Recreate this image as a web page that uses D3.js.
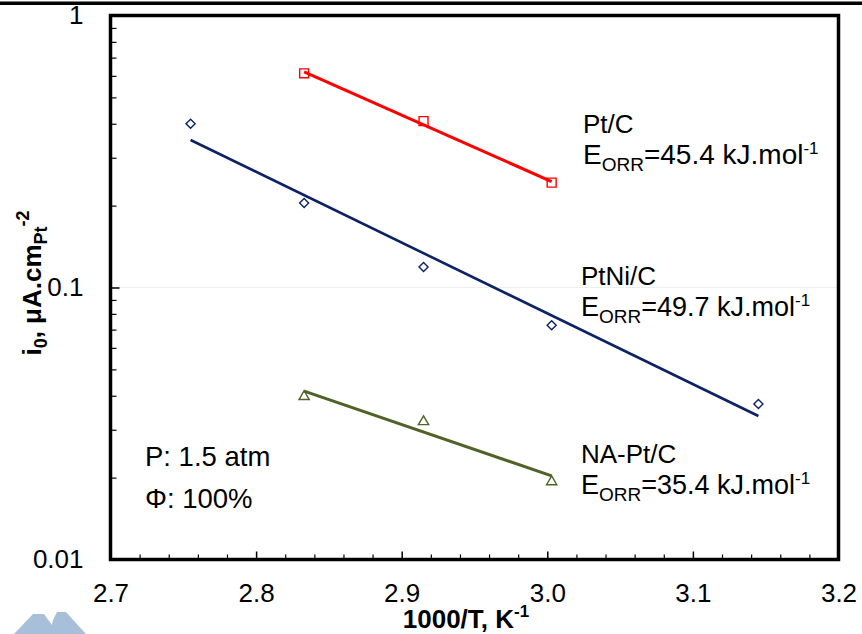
<!DOCTYPE html>
<html><head><meta charset="utf-8">
<script src="https://cdn.jsdelivr.net/npm/d3@7"></script>
<style>
html,body{margin:0;padding:0;background:#fff;}
svg{display:block;}
text{font-family:Arial,"Liberation Sans",sans-serif;}
</style></head>
<body>
<svg id="c" width="862" height="634"></svg>
<script>
// ---- data ----
const xTickValues = [2.7, 2.8, 2.9, 3.0, 3.1, 3.2];
const xTickLabels = ["2.7", "2.8", "2.9", "3.0", "3.1", "3.2"];
const yTickValues = [0.01, 0.1, 1];
const yTickLabels = ["0.01", "0.1", "1"];

const ptcX = [2.833, 2.915, 3.003];
const ptcY = [0.613, 0.409, 0.243];
const ptcFitX = [2.833, 3.003];
const ptcFitY = [0.621, 0.245];

const ptniX = [2.755, 2.833, 2.915, 3.003, 3.145];
const ptniY = [0.400, 0.2045, 0.119, 0.0726, 0.0373];
const ptniFitX = [2.755, 3.145];
const ptniFitY = [0.3486, 0.0337];

const napX = [2.833, 2.915, 3.003];
const napY = [0.0397, 0.0321, 0.0193];
const napFitX = [2.833, 3.003];
const napFitY = [0.0416, 0.0203];

// ---- layout ----
const svg = d3.select("#c");
const L = 110.5, R = 838.5, T = 15.5, B = 559.5;
const x = d3.scaleLinear().domain([2.7, 3.2]).range([L, R]);
const y = d3.scaleLog().domain([0.01, 1]).range([B, T]);

// stray top border line
svg.append("line").attr("x1", 0).attr("x2", 862).attr("y1", 3.3).attr("y2", 3.3)
  .attr("stroke", "#000").attr("stroke-width", 3.4);

// gridline at 0.1
svg.append("line").attr("x1", L).attr("x2", R).attr("y1", y(0.1)).attr("y2", y(0.1))
  .attr("stroke", "#eeeeee").attr("stroke-width", 1);

// minor ticks
const xMinor = d3.range(2.72, 3.2, 0.02).filter(v => Math.abs(v * 10 - Math.round(v * 10)) > 1e-6);
const yMinor = [];
[0.01, 0.1].forEach(d => { for (let k = 2; k <= 9; k++) yMinor.push(d * k); });

const xAxis = d3.axisBottom(x).tickValues(xTickValues).tickSize(-8).tickFormat((d, i) => xTickLabels[i]).tickPadding(20);
const gx = svg.append("g").attr("transform", `translate(0,${B})`).call(xAxis);
gx.select(".domain").remove();
gx.selectAll(".tick line").attr("stroke", "#000").attr("stroke-width", 1.5);
gx.selectAll(".tick text").attr("font-size", 26).attr("fill", "#000").attr("dy", "0.71em").attr("y", 24);
const gxm = svg.append("g").attr("transform", `translate(0,${B})`)
  .call(d3.axisBottom(x).tickValues(xMinor).tickSize(-5).tickFormat(""));
gxm.select(".domain").remove();
gxm.selectAll(".tick line").attr("stroke", "#000").attr("stroke-width", 1.2);

const yAxis = d3.axisLeft(y).tickValues(yTickValues).tickSize(-9).tickFormat((d, i) => yTickLabels[i]).tickPadding(28);
const gy = svg.append("g").attr("transform", `translate(${L},0)`).call(yAxis);
gy.select(".domain").remove();
gy.selectAll(".tick line").attr("stroke", "#000").attr("stroke-width", 1.5);
gy.selectAll(".tick text").attr("font-size", 26).attr("fill", "#000").attr("x", -27);
const gym = svg.append("g").attr("transform", `translate(${L},0)`)
  .call(d3.axisLeft(y).tickValues(yMinor).tickSize(-6).tickFormat(""));
gym.select(".domain").remove();
gym.selectAll(".tick line").attr("stroke", "#000").attr("stroke-width", 1.2);

// frame
svg.append("rect").attr("x", L).attr("y", T).attr("width", R - L).attr("height", B - T)
  .attr("fill", "none").attr("stroke", "#000").attr("stroke-width", 3.5);

// series
const line = d3.line().x(d => x(d[0])).y(d => y(d[1]));
function drawSeries(xs, ys, fx, fy, color, lw, sym, size) {
  svg.append("path").datum(d3.zip(fx, fy)).attr("d", line)
    .attr("fill", "none").attr("stroke", color).attr("stroke-width", lw);
  svg.append("g").selectAll("path").data(d3.zip(xs, ys)).join("path")
    .attr("d", d3.symbol().type(sym).size(size))
    .attr("transform", d => `translate(${x(d[0])},${y(d[1])})`)
    .attr("fill", "none").attr("stroke", color).attr("stroke-width", 1.4);
}
const diamond = { draw(ctx, size) { const r = Math.sqrt(size) / 2 * 1.1; ctx.moveTo(0, -r); ctx.lineTo(r, 0); ctx.lineTo(0, r); ctx.lineTo(-r, 0); ctx.closePath(); } };
drawSeries(ptcX, ptcY, ptcFitX, ptcFitY, "#ff0000", 3, d3.symbolSquare, 80);
drawSeries(ptniX, ptniY, ptniFitX, ptniFitY, "#0b2264", 2.6, diamond, 68);
drawSeries(napX, napY, napFitX, napFitY, "#4f6228", 3, d3.symbolTriangle, 45);

// annotations
function label(xp, yp, name, eText, fs) {
  svg.append("text").attr("x", xp).attr("y", yp).attr("font-size", 26).attr("fill", "#000").text(name);
  const t = svg.append("text").attr("x", xp).attr("y", yp + 31).attr("font-size", fs).attr("fill", "#000");
  t.append("tspan").text("E");
  t.append("tspan").attr("font-size", 19).attr("dy", 7).text("ORR");
  t.append("tspan").attr("dy", -7).text("=" + eText + " kJ.mol");
  t.append("tspan").attr("font-size", 17).attr("dy", -10).text("-1");
}
label(583, 133, "Pt/C", "45.4", 28);
label(581, 285, "PtNi/C", "49.7", 27);
label(581, 463, "NA-Pt/C", "35.4", 27);

svg.append("text").attr("x", 145).attr("y", 466).attr("font-size", 27.5).text("P: 1.5 atm");
svg.append("text").attr("x", 145).attr("y", 508).attr("font-size", 27.5).text("Φ: 100%");

// axis titles
const xt = svg.append("text").attr("x", 466).attr("y", 628).attr("text-anchor", "middle")
  .attr("font-size", 26).attr("font-weight", "bold");
xt.append("tspan").text("1000/T, K");
xt.append("tspan").attr("font-size", 17).attr("dy", -11).text("-1");

const yt = svg.append("text").attr("transform", "translate(41,283) rotate(-90)").attr("text-anchor", "middle")
  .attr("font-size", 26).attr("font-weight", "bold");
yt.append("tspan").text("i");
yt.append("tspan").attr("font-size", 18).attr("dy", 6).text("0");
yt.append("tspan").attr("dy", -6).text(", μA.cm");
yt.append("tspan").attr("font-size", 18).attr("dy", 6).text("Pt");
yt.append("tspan").attr("font-size", 18).attr("dy", -18).text("-2");

// logo fragment bottom-left
svg.append("path").attr("d", "M14,634 L33,614 L44,614 L54,628 L51,634 Z").attr("fill", "#a7bfd9");
svg.append("path").attr("d", "M50,634 L53,620 L57,612 L66,612 L86,634 Z").attr("fill", "#a7bfd9");
</script>
</body></html>
